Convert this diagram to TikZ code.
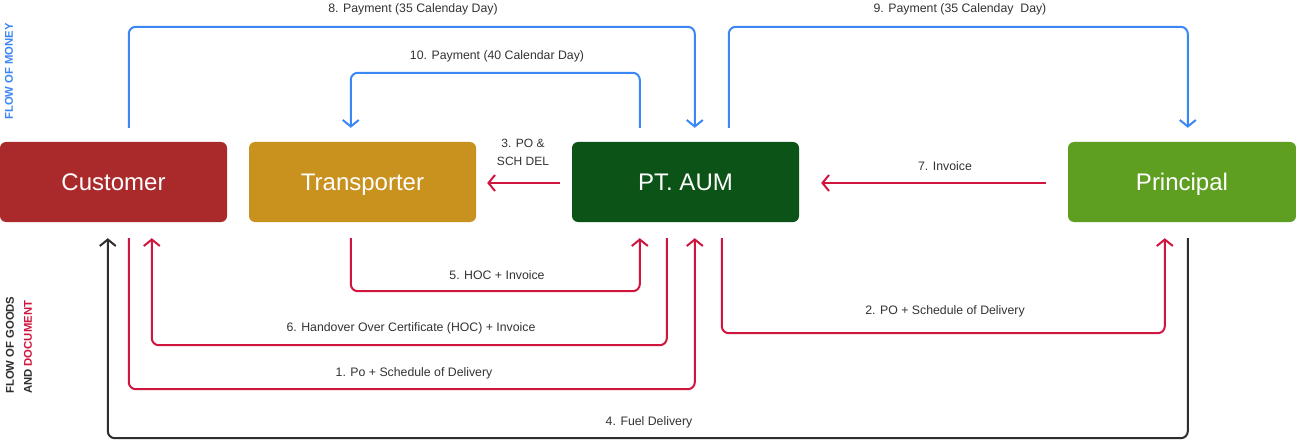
\documentclass[tikz,border=0pt]{standalone}
\usepackage{fontspec}
\setmainfont{Liberation Sans}
\usetikzlibrary{arrows.meta,calc}
\definecolor{custc}{HTML}{AA2A2B}
\definecolor{transc}{HTML}{C9911E}
\definecolor{aumc}{HTML}{0B5316}
\definecolor{princc}{HTML}{5E9F22}
\definecolor{moneyc}{HTML}{3B87F5}
\definecolor{docc}{HTML}{D0153F}
\definecolor{goodsc}{HTML}{2E2E2E}
\definecolor{txtc}{HTML}{333333}
\tikzset{
  box/.style={rounded corners=6pt, minimum width=227pt, minimum height=80pt, inner sep=0pt,
    text=white, font=\fontsize{24}{28}\selectfont, text height=17pt, text depth=0pt},
  flow/.style={line width=2pt, rounded corners=7pt, -{Straight Barb[length=6.5pt,width=16pt]}},
  money/.style={flow, draw=moneyc},
  doc/.style={flow, draw=docc},
  goods/.style={flow, draw=goodsc},
  lbl/.style={text=txtc, font=\fontsize{12.3}{14}\selectfont, inner sep=0pt},
  side/.style={font=\bfseries\fontsize{11.3}{13}\selectfont, inner sep=0pt, rotate=90, anchor=west}
}
\begin{document}
\begin{tikzpicture}[x=1pt,y=-1pt]
\useasboundingbox[fill=white] (0,0) rectangle (1296,441);
% boxes
\node[box, fill=custc] (cust) at (113.5,182) {Customer};
\node[box, fill=transc] (trans) at (362.5,182) {Transporter};
\node[box, fill=aumc] (aum) at (685.5,182) {PT. AUM};
\node[box, fill=princc, minimum width=228pt] (princ) at (1182,182) {Principal};
% money flows
\draw[money] ([shift={(129,-14)}]cust.north west) -- ++(0,-101) -| ([shift={(123,-14)}]aum.north west);
\draw[money] ([shift={(68,-14)}]aum.north west) -- ++(0,-55) -| ([shift={(102,-14)}]trans.north west);
\draw[money] ([shift={(157,-14)}]aum.north west) -- ++(0,-101) -| ([shift={(120,-14)}]princ.north west);
% horizontal document flows
\draw[doc] ([shift={(-12,1)}]aum.west) -- ([shift={(11,1)}]trans.east);
\draw[doc] ([shift={(-22,1)}]princ.west) -- ([shift={(22,1)}]aum.east);
% lower flows
\draw[goods] ([shift={(120,16)}]princ.south west) -- ++(0,200) -| ([shift={(108,16)}]cust.south west);
\draw[doc] ([shift={(129,16)}]cust.south west) -- ++(0,151) -| ([shift={(123,16)}]aum.south west);
\draw[doc] ([shift={(95,16)}]aum.south west) -- ++(0,107) -| ([shift={(152,16)}]cust.south west);
\draw[doc] ([shift={(102,16)}]trans.south west) -- ++(0,53) -| ([shift={(68,16)}]aum.south west);
\draw[doc] ([shift={(150,16)}]aum.south west) -- ++(0,95) -| ([shift={(97,16)}]princ.south west);
% labels
\node[lbl] (l8) at (413,9) {8. Payment (35 Calenday Day)};
\node[lbl] (l10) at (497,56) {10. Payment (40 Calendar Day)};
\node[lbl] (l9) at (960,9) {9. Payment (35 Calenday\ \ Day)};
\node[lbl, align=center, font=\fontsize{12}{18}\selectfont] (l3) at (523,152) {3. PO \&\\SCH DEL};
\node[lbl] (l7) at (945,166) {7. Invoice};
\node[lbl] (l5) at (497,275) {5. HOC + Invoice};
\node[lbl] (l2) at (945,311) {2. PO + Schedule of Delivery};
\node[lbl] (l6) at (411,328) {6. Handover Over Certificate (HOC) + Invoice};
\node[lbl] (l1) at (414,373) {1. Po + Schedule of Delivery};
\node[lbl] (l4) at (649,422) {4. Fuel Delivery};
% side labels
\node[side, text=moneyc] (sm) at (9,120) {FLOW OF MONEY};
\node[side, text=goodsc] (sg1) at (10,394) {FLOW OF GOODS};
\node[side, text=goodsc] (sg2) at (28,394) {AND \textcolor{docc}{DOCUMENT}};
\end{tikzpicture}
\end{document}
